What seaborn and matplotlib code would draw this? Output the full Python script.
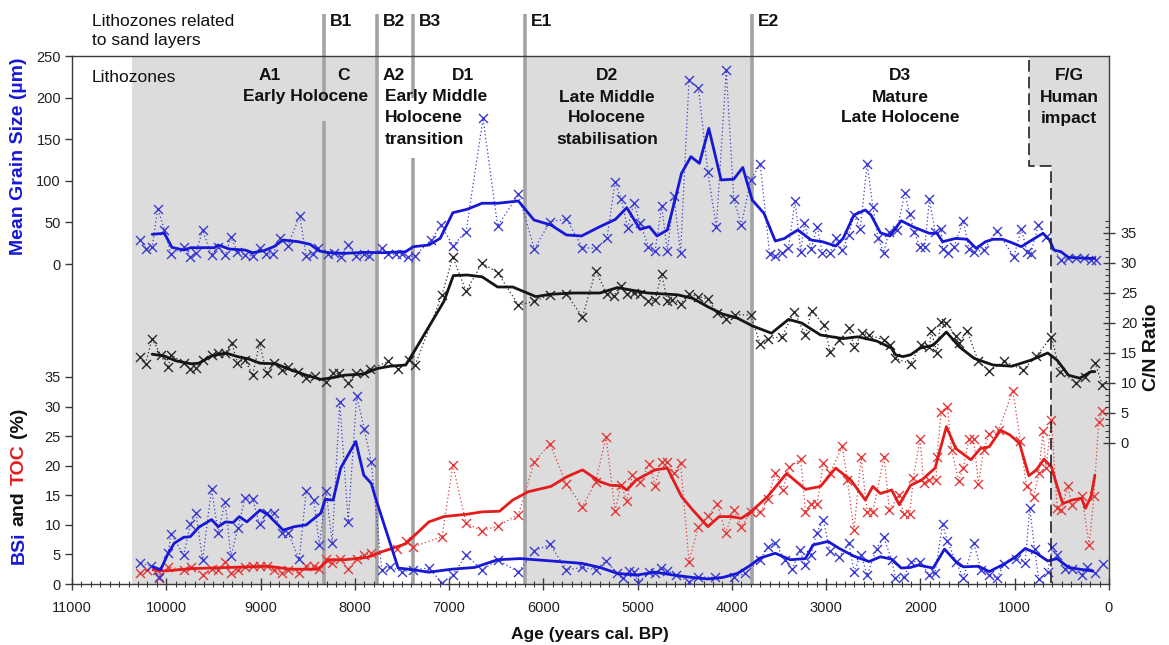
import numpy as np
import matplotlib
matplotlib.use("Agg")
import matplotlib.pyplot as plt
import matplotlib.transforms as mtransforms
from matplotlib.ticker import MultipleLocator, FixedLocator, FuncFormatter
import seaborn as sns

# ---------------- data (age in years cal. BP) ----------------
grain_age = [10280, 10210, 10150, 10090, 10020, 9950, 9815, 9745, 9685, 9615, 9520, 9450, 9375, 9315, 9245,
             9165, 9085, 9005, 8945, 8870, 8790, 8710, 8585, 8515, 8445, 8395, 8285, 8220, 8150, 8070, 7990,
             7905, 7845, 7715, 7645, 7565, 7500, 7440, 7360, 7195, 7085, 6960, 6820, 6640, 6485, 6265, 6095,
             5930, 5755, 5585, 5445, 5325, 5240, 5175, 5105, 5040, 4975, 4885, 4815, 4745, 4685, 4615, 4545,
             4455, 4355, 4255, 4165, 4060, 3980, 3900, 3800, 3700, 3600, 3540, 3470, 3400, 3330, 3270, 3230,
             3160, 3095, 3040, 2960, 2900, 2830, 2760, 2705, 2640, 2565, 2505, 2450, 2390, 2335, 2250, 2165,
             2115, 2065, 2005, 1955, 1905, 1845, 1780, 1765, 1705, 1645, 1545, 1485, 1430, 1330, 1190, 1010,
             930, 870, 830, 750, 670, 510, 430, 350, 270, 190, 135]
grain_raw = [28.8, 18, 20, 66.5, 40.9, 12, 20, 8.8, 12.8, 40.9, 10.8, 20.8, 10.4, 32, 14.8,
             10.8, 9.6, 19.6, 12, 12, 30.8, 22, 58, 9.6, 11.6, 18.8, 11.6, 12.8, 8.8, 22.8, 9.6,
             11.6, 9.6, 18.8, 11.6, 11.6, 11.6, 8.8, 9.6, 28.8, 46.5, 22, 38.9, 175, 45.7, 83.7, 18,
             50.9, 54, 19.6, 18.8, 30.8, 98.2, 78, 42.9, 73, 49.6, 20.8, 15.6, 69.7, 15.6, 81.7, 12.8,
             221, 212, 110, 44, 233, 77.8, 46.9, 101, 120, 12, 9.6, 12.8, 19.6, 75.7, 14.8, 49.6,
             17.6, 44.9, 12.8, 12.8, 30.8, 16.8, 34.9, 58.9, 41.7, 120, 68.9, 30.8, 13.6, 38.9, 40.9, 85.7,
             59.7, 38.9, 20, 20, 77.8, 38.9, 41.7, 17.6, 12.8, 20.8, 52, 17.6, 14.8, 16.8, 40, 8.8,
             41.7, 14.8, 12, 46.9, 32.8, 4.8, 6.8, 6.8, 6.8, 4.8, 4.8]

grain_s_age = [10150, 10020, 9940, 9815, 9740, 9490, 9450, 9330, 9165, 9085, 8965, 8860, 8760, 8600, 8475,
               8375, 8275, 8110, 7905, 7705, 7460, 7380, 7215, 7095, 6960, 6810, 6650, 6485, 6265, 6100,
               5920, 5755, 5595, 5400, 5235, 5115, 4975, 4875, 4795, 4685, 4595, 4535, 4435, 4345, 4245,
               4115, 3980, 3885, 3785, 3660, 3540, 3440, 3405, 3300, 3160, 3040, 2900, 2820, 2705, 2585,
               2525, 2425, 2325, 2205, 2065, 1905, 1825, 1765, 1625, 1505, 1410, 1310, 1230, 1130, 1030,
               930, 830, 700, 630, 585, 510, 430, 230, 150]
grain_smooth = [35.7, 36.9, 20, 16.8, 19.6, 19.6, 22.8, 18, 16.8, 13.6, 16, 20.8, 28.8, 26.8, 23.7,
                15.6, 13.6, 12.8, 14, 13.6, 14.8, 20.8, 22.8, 30.8, 61.7, 65.7, 73, 73, 75.7, 52.9,
                46.9, 34.9, 33.7, 44.9, 53.7, 67.7, 41.7, 44.9, 33.7, 40.9, 81, 109, 129, 121, 163,
                101, 102, 116, 77, 60.9, 27.6, 30.8, 33.7, 40.9, 28.8, 26.8, 21.6, 30.8, 58.9, 64.9,
                58.9, 37.6, 33.7, 52, 44, 36.9, 36.9, 26.8, 30.8, 29.7, 18.8, 26.8, 29.7, 29.7, 25.6,
                20.8, 28, 36.9, 28.8, 16.8, 14.8, 8, 6.8, 6.8]

cn_age = [10280, 10220, 10150, 10060, 9980, 9950, 9815, 9745, 9685, 9615, 9520, 9450, 9375, 9305, 9245,
          9165, 9085, 9010, 8935, 8860, 8770, 8710, 8605, 8515, 8425, 8305, 8235, 8170, 8070, 7990, 7905,
          7835, 7645, 7540, 7420, 7360, 7075, 6960, 6820, 6650, 6485, 6265, 6095, 5930, 5755, 5585, 5445,
          5325, 5255, 5180, 5115, 5035, 4980, 4885, 4815, 4745, 4685, 4635, 4545, 4455, 4355, 4255, 4155,
          4060, 3970, 3800, 3700, 3620, 3470, 3340, 3220, 3155, 3020, 2960, 2860, 2760, 2700, 2620, 2545,
          2385, 2325, 2265, 2105, 1995, 1905, 1885, 1825, 1785, 1725, 1625, 1595, 1505, 1385, 1270, 1110,
          910, 770, 610, 520, 350, 250, 150, 70]
cn_raw = [14.4, 13.2, 17.4, 14.7, 12.6, 14.7, 13.3, 12.3, 12.5, 13.9, 14.7, 15, 15, 16.6, 13.4,
          13.9, 11.3, 16.6, 11.6, 13.4, 12.2, 12.6, 11.9, 10.8, 11.1, 10.2, 11.6, 11.6, 10, 11.6, 11.6,
          12.3, 13.6, 12.3, 13.8, 13, 24.7, 31, 25.3, 30, 28.4, 23, 23.6, 24.7, 24.8, 21, 28.7,
          24.8, 24.5, 26.2, 24.8, 25, 24.8, 23.6, 23.8, 28.2, 23.6, 23.8, 23.2, 24.8, 24.4, 24, 21.6,
          20.7, 21.4, 21.3, 16.5, 17.4, 17.7, 21.9, 18, 22, 19.7, 15.2, 17.2, 19.1, 16, 18.3, 18,
          17.2, 16.3, 14.1, 13.2, 16.4, 16, 18.6, 15, 20.2, 20, 17.8, 16.6, 18.7, 13.6, 12, 13.6,
          12.2, 14.5, 17.7, 11.9, 10, 11, 13.4, 9.7]

cn_s_age = [10150, 10020, 9900, 9735, 9655, 9520, 9370, 9245, 9125, 9005, 8840, 8680, 8515, 8360, 8230,
            8110, 7905, 7765, 7625, 7460, 7380, 7055, 6955, 6810, 6650, 6485, 6325, 6080, 5920, 5675,
            5400, 5215, 4895, 4575, 4415, 4255, 4100, 3940, 3780, 3580, 3400, 3260, 3060, 2820, 2665,
            2465, 2305, 2265, 2185, 2105, 2005, 1865, 1725, 1585, 1430, 1230, 1030, 830, 650, 550,
            430, 310, 190, 150]
cn_smooth = [14.8, 14.5, 13.7, 13.2, 13.3, 14.5, 15, 14.4, 14, 13.3, 13.2, 12.2, 11.3, 10.6, 10.9,
             11.3, 11.5, 12.4, 12.8, 13, 15, 23.6, 27.9, 28, 27.7, 26, 26, 24.4, 24.8, 25,
             25, 25.9, 25, 24.7, 24.1, 22.7, 21.5, 20.8, 19.5, 18.3, 20.6, 20, 18, 17.4, 17.7,
             17, 15.8, 14.7, 14.4, 14.7, 15.8, 16.3, 18.5, 16, 14.1, 13, 12.8, 13.8, 15, 13.8,
             11.3, 10.8, 11.9, 11.9]

bsi_age = [10280, 10160, 10080, 9980, 9950, 9815, 9745, 9685, 9615, 9520, 9450, 9375, 9315, 9240, 9165,
           9085, 9010, 8935, 8860, 8770, 8710, 8590, 8515, 8435, 8375, 8305, 8240, 8160, 8070, 7980, 7900,
           7825, 7715, 7630, 7500, 7380, 7215, 7075, 6960, 6820, 6650, 6485, 6265, 6095, 5930, 5755, 5585,
           5445, 5335, 5215, 5155, 5095, 5035, 4995, 4875, 4815, 4755, 4685, 4595, 4455, 4355, 4175, 3980,
           3860, 3700, 3620, 3540, 3440, 3360, 3280, 3220, 3160, 3100, 3030, 2960, 2860, 2760, 2705, 2630,
           2565, 2465, 2390, 2305, 2265, 2175, 2105, 2005, 1905, 1845, 1765, 1715, 1625, 1545, 1435, 1355,
           1270, 1190, 1110, 990, 890, 840, 790, 745, 650, 600, 550, 470, 390, 290, 230, 150, 60]
bsi_raw = [3.6, 3, 1.1, 5.2, 8.5, 4.9, 10.1, 12, 4.1, 16.1, 8.7, 13.9, 4.7, 9.4, 14.5,
           14.4, 10.1, 12, 12, 8.7, 8.7, 4.2, 15.8, 14.2, 6.6, 15.8, 7, 30.8, 10.5, 31.8, 26.2,
           20.6, 2.4, 2.9, 2.1, 2.4, 2.7, 0.2, 1.5, 4.9, 2.4, 4.1, 2, 5.6, 6.7, 2.4, 2.8,
           2.4, 3.9, 1.8, 1, 2.2, 2.1, 0.2, 2.1, 1.8, 2.7, 2.2, 1.6, 0.4, 1.2, 1.1, 1.2,
           1.8, 4.1, 6.3, 6.9, 4.1, 2.5, 5.7, 3.2, 4.9, 8.7, 10.8, 5.5, 4.6, 6.9, 2.1, 4.9,
           1.5, 6, 7.9, 4.1, 1, 1.1, 3.8, 3.8, 1.5, 1.9, 10.1, 7.3, 3.8, 1, 6.9, 2.4,
           1.5, 1, 3.4, 4.3, 3.6, 12.9, 5.9, 0.8, 2.1, 6.2, 4.9, 2.5, 2.5, 1.5, 2.9, 1.8, 3.4]

bsi_s_age = [10140, 10060, 9980, 9915, 9815, 9745, 9655, 9520, 9450, 9370, 9290, 9225, 9145, 9005, 8920,
             8760, 8640, 8515, 8360, 8315, 8230, 8150, 7990, 7905, 7825, 7785, 7745, 7540, 7380, 7215,
             6975, 6730, 6485, 6245, 5920, 5595, 5400, 5215, 5015, 4815, 4615, 4415, 4255, 4100, 3940,
             3800, 3700, 3540, 3380, 3220, 3140, 2980, 2860, 2705, 2545, 2425, 2305, 2205, 2105, 2025,
             1865, 1745, 1625, 1545, 1385, 1270, 1110, 990, 890, 770, 650, 550, 430, 310, 170]
bsi_smooth = [2.9, 2.4, 5.2, 6.9, 7.9, 8, 9.6, 10.9, 9.7, 10.5, 10.4, 11.4, 10.5, 12.5, 11.7,
              9.1, 9.7, 10, 12, 14.3, 14.2, 19.6, 24.1, 18.4, 17, 14.8, 12.8, 2.7, 2.4, 2,
              2.5, 2.8, 4.1, 4.3, 3.9, 3.5, 2.8, 1.8, 1.5, 2, 1.5, 1.1, 0.85, 1.1, 1.8,
              3.2, 4.4, 5.2, 4.1, 4.3, 6.6, 7.2, 6, 4.7, 3.8, 4.6, 4.2, 2.7, 2.8, 3.2,
              2.7, 5.9, 3.8, 2.9, 3, 2.1, 3.4, 4.6, 6, 5.2, 3.9, 4.3, 2.8, 2.5, 2.2]

toc_age = [10280, 10200, 10100, 10080, 9980, 9815, 9735, 9615, 9520, 9450, 9375, 9315, 9240, 9165, 9085,
           9005, 8935, 8860, 8770, 8710, 8590, 8515, 8435, 8375, 8305, 8240, 8160, 8070, 7980, 7900, 7825,
           7550, 7455, 7380, 7075, 6960, 6820, 6650, 6485, 6265, 6095, 5930, 5755, 5585, 5445, 5335, 5240,
           5175, 5115, 5055, 4975, 4875, 4815, 4745, 4685, 4615, 4545, 4455, 4355, 4255, 4155, 4065, 3980,
           3900, 3800, 3700, 3620, 3540, 3460, 3390, 3270, 3220, 3160, 3095, 3030, 2960, 2830, 2775, 2705,
           2630, 2565, 2505, 2385, 2330, 2230, 2175, 2115, 2075, 2005, 1965, 1905, 1835, 1825, 1780, 1715,
           1670, 1595, 1545, 1485, 1435, 1385, 1330, 1270, 1170, 1020, 940, 875, 800, 745, 700, 670,
           610, 550, 505, 440, 390, 290, 210, 160, 110, 70]
toc_raw = [1.9, 2.4, 2.4, 1, 2.9, 2.4, 2.9, 1.6, 2.5, 2.4, 3.8, 1.8, 2.4, 2.9, 3,
           3, 3, 2.4, 1.8, 2.4, 1.8, 3, 3, 2.5, 4.3, 3.6, 4.3, 2.5, 4.3, 4.9, 5.2,
           5.9, 7.2, 6.3, 8, 20.1, 10.3, 9, 9.8, 11.7, 20.7, 23.7, 16.9, 13.1, 17.3, 24.9, 12.4,
           16.7, 14.1, 18.4, 17.3, 20.3, 16.6, 20.7, 20.7, 18.7, 20.5, 3.8, 9.7, 11.5, 13.5, 8.7, 12.5,
           9.7, 12.2, 12.1, 14.3, 18.8, 15.9, 19.7, 21.2, 12.1, 13.6, 13.6, 20.5, 18.7, 23.3, 17.6, 9.1,
           21.4, 12.2, 12.2, 21.5, 12.5, 15, 11.8, 11.8, 17.9, 24.6, 17.1, 17.6, 17.6, 21.5, 29.1, 30,
           22.7, 17.5, 19.6, 24.5, 24.5, 16.9, 22.7, 25.3, 26, 32.7, 24.1, 16.6, 14.7, 18.7, 25.8, 19.6,
           27.7, 12.8, 12.5, 16.5, 13.4, 14.9, 6.6, 14.8, 27.4, 29.3]

toc_s_age = [10140, 10020, 9735, 9330, 8920, 8680, 8395, 8275, 8110, 7865, 7705, 7460, 7215, 7055, 6810,
             6650, 6465, 6325, 6160, 5920, 5755, 5585, 5400, 5290, 5175, 5115, 5015, 4815, 4685, 4535,
             4415, 4255, 4135, 4015, 3900, 3800, 3620, 3420, 3220, 3060, 2900, 2740, 2585, 2505, 2425,
             2305, 2225, 2105, 1985, 1845, 1725, 1625, 1465, 1365, 1270, 1150, 1050, 950, 850, 770,
             690, 610, 550, 490, 390, 290, 250, 190, 150]
toc_smooth = [2.4, 2.2, 2.6, 2.8, 3, 2.5, 2.5, 4.1, 4.1, 4.5, 5.5, 6.8, 10.5, 11.4, 11.8,
              12.2, 12.3, 14.2, 15.6, 16.5, 18.1, 19.3, 17.3, 16.7, 16.6, 15.9, 17.6, 19.3, 19.6, 14.8,
              12.5, 9.7, 11.4, 11.4, 11.1, 12.2, 14.8, 18.7, 16, 16.5, 19.6, 17.6, 14.2, 16.5, 15.3,
              15.9, 13.4, 16.7, 17.6, 19.6, 26.6, 22.9, 21, 22.9, 23.2, 26, 25.2, 23.8, 18.3, 19.3,
              21.1, 19.8, 16.5, 13.6, 14.2, 14.5, 12.8, 14.8, 18.4]

# zones
shade_zones = [(10360, 7765), (6200, 3790)]
fg_upper_age, fg_lower_age, fg_step_grain = 850, 610, 118
zone_lines = {"B1": 8330, "B2": 7765, "B3": 7387, "E1": 6200, "E2": 3790}

# ---------------- styling / layout ----------------
sns.set_theme(style="white")
plt.rcParams["font.family"] = ["Liberation Sans", "DejaVu Sans"]

W, H = 1169, 645
PX_L, PX_R, PX_T, PX_B = 72, 1109, 56, 584
def fx(px): return px / W
def fy(py): return 1 - py / H

BLUE = "#1717d6"
BLUE_M = "#3b3bd0"
RED = "#e41c1c"
RED_M = "#e23a3a"
BLACK = "#151515"
GREY_ZONE = "#dcdcdc"
GREY_LINE = "#a3a3a3"
SPINE = "#3a3a3a"

fig = plt.figure(figsize=(W / 100, H / 100), dpi=100)
ax = fig.add_axes([fx(PX_L), fy(PX_B), (PX_R - PX_L) / W, (PX_B - PX_T) / H])
ax.set_facecolor("white")

# axis scalings (from tick pixel anchors)
bsi_unit = (584 - 377) / 35.0
grain_unit = (264 - 56) / 250.0
cn_unit = (443 - 233) / 35.0

ax_g = ax.twinx()
ax_c = ax.twinx()

# shaded lithozones
for a0, a1 in shade_zones:
    ax.axvspan(a0, a1, color=GREY_ZONE, lw=0, zorder=0)
step_frac = (PX_B - (264 - fg_step_grain * grain_unit)) / (PX_B - PX_T)
ax.axvspan(fg_upper_age, 0, ymin=step_frac, ymax=1, color=GREY_ZONE, lw=0, zorder=0)
ax.axvspan(fg_lower_age, 0, ymin=0, ymax=step_frac, color=GREY_ZONE, lw=0, zorder=0)

# vertical zone boundaries
blend = mtransforms.blended_transform_factory(ax.transData, fig.transFigure)
segments = {"B1": [(14, 99), (121, PX_B)], "B2": [(14, PX_B)], "B3": [(14, 98), (158, PX_B)],
            "E1": [(14, PX_B)], "E2": [(14, PX_B)]}
for name, age in zone_lines.items():
    for y0, y1 in segments[name]:
        ax.plot([age, age], [fy(y0), fy(y1)], transform=blend, clip_on=False, color=GREY_LINE,
                lw=2.6, solid_capstyle="butt", zorder=1)

# ---- series
def draw_series(axis, age, raw, s_age, smooth, lc, mc):
    sns.lineplot(x=np.array(age), y=np.array(raw), ax=axis, color=mc, linewidth=0.9,
                 linestyle=(0, (1, 2)), estimator=None, sort=True, zorder=2)
    sns.scatterplot(x=np.array(age), y=np.array(raw), ax=axis, marker="x", s=42, color=mc,
                    linewidth=1.0, zorder=3)
    sns.lineplot(x=np.array(s_age), y=np.array(smooth), ax=axis, color=lc, linewidth=2.0,
                 estimator=None, sort=True, zorder=4)

draw_series(ax, toc_age, toc_raw, toc_s_age, toc_smooth, RED, RED_M)
draw_series(ax, bsi_age, bsi_raw, bsi_s_age, bsi_smooth, BLUE, BLUE_M)
draw_series(ax_g, grain_age, grain_raw, grain_s_age, grain_smooth, BLUE, BLUE_M)
draw_series(ax_c, cn_age, cn_raw, cn_s_age, cn_smooth, BLACK, "#2a2a2a")

# F/G dashed boundary
ax_g.plot([fg_upper_age, fg_upper_age, fg_lower_age, fg_lower_age],
          [245, fg_step_grain, fg_step_grain, -500], color="#222222", lw=1.2,
          linestyle=(0, (7, 3)), zorder=5, clip_on=True)

# limits
for a in (ax, ax_g, ax_c):
    a.set_xlim(11000, 0)
ax.set_ylim(0, (PX_B - PX_T) / bsi_unit)
ax_g.set_ylim(-(PX_B - 264) / grain_unit, 250)
ax_c.set_ylim(-(PX_B - 443) / cn_unit, (443 - PX_T) / cn_unit)

for a in (ax, ax_g, ax_c):
    a.set_xlabel("")
    a.set_ylabel("")
    a.grid(False)

# spines
for s in ax.spines.values():
    s.set_color(SPINE)
    s.set_linewidth(1.0)
for a in (ax_g, ax_c):
    for s in a.spines.values():
        s.set_visible(False)

# ticks
fmt = FuncFormatter(lambda v, p: f"{int(round(v))}")
ax.xaxis.set_major_locator(MultipleLocator(1000))
ax.xaxis.set_minor_locator(MultipleLocator(100))
ax.xaxis.set_major_formatter(fmt)
ax.tick_params(axis="x", which="major", direction="inout", length=9, width=1.0, color=SPINE,
               labelsize=10.5, pad=8, bottom=True, top=False, labelcolor="#202020")
ax.tick_params(axis="x", which="minor", direction="inout", length=4, width=0.8, color=SPINE,
               bottom=True, top=False)

ax.yaxis.set_major_locator(FixedLocator(list(range(0, 36, 5))))
ax.yaxis.set_major_formatter(fmt)
ax.tick_params(axis="y", which="major", direction="out", length=5, width=1.0, color=SPINE,
               labelsize=10.5, left=True, right=False, labelleft=True, labelright=False,
               labelcolor="#202020", pad=3)

ax_g.yaxis.set_major_locator(FixedLocator(list(range(0, 251, 50))))
ax_g.yaxis.set_major_formatter(fmt)
ax_g.yaxis.tick_left()
ax_g.tick_params(axis="y", which="major", direction="out", length=5, width=1.0, color=SPINE,
                 labelsize=10.5, left=True, right=False, labelleft=True, labelright=False,
                 labelcolor="#202020", pad=3)
ax_g.tick_params(axis="x", which="both", bottom=False, top=False, labelbottom=False)

ax_c.yaxis.set_major_locator(FixedLocator(list(range(0, 36, 5))))
ax_c.yaxis.set_minor_locator(FixedLocator(list(range(0, 38))))
ax_c.yaxis.set_major_formatter(fmt)
ax_c.tick_params(axis="y", which="major", direction="inout", length=9, width=1.0, color=SPINE,
                 labelsize=10.5, left=False, right=True, labelleft=False, labelright=True,
                 labelcolor="#202020", pad=4)
ax_c.tick_params(axis="y", which="minor", direction="in", length=3, width=0.8, color=SPINE,
                 left=False, right=True)
ax_c.tick_params(axis="x", which="both", bottom=False, top=False, labelbottom=False)

# ---------------- texts ----------------
FS = 12.5
def put(lines, px, rows, ha="center", bold=True):
    for line, py in zip(lines, rows):
        fig.text(fx(px), fy(py), line, ha=ha, va="center", fontsize=FS,
                 fontweight="bold" if bold else "normal", color="#111111")

put(["Lithozones related", "to sand layers"], 92, [21, 40], ha="left", bold=False)
for name, age in zone_lines.items():
    px = PX_R - (PX_R - PX_L) * age / 11000.0
    put([name], px + 6, [21], ha="left")

put(["Lithozones"], 92, [77], ha="left", bold=False)
put(["A1"], 270, [76])
put(["C"], 344, [76])
put(["Early Holocene"], 306, [97])
put(["A2"], 383, [76], ha="left")
put(["D1"], 463, [76])
put(["Early Middle", "Holocene", "transition"], 385, [97, 118, 139], ha="left")
put(["D2", "Late Middle", "Holocene", "stabilisation"], 607, [76, 97, 118, 139])
put(["D3", "Mature", "Late Holocene"], 900, [76, 97, 118])
put(["F/G", "Human", "impact"], 1069, [76, 97, 118])

# axis labels
XFS = 12.5
YFS = 14
fig.text(fx(590), fy(635), "Age (years cal. BP)", ha="center", va="center", fontsize=XFS,
         fontweight="bold", color="#111111")
fig.text(fx(1151), fy(347), "C/N Ratio", ha="center", va="center", rotation=90, fontsize=YFS,
         fontweight="bold", color="#111111")
fig.text(fx(19), fy(156), "Mean Grain Size (µm)", ha="center", va="center", rotation=90,
         fontsize=YFS, fontweight="bold", color=BLUE)

renderer = fig.canvas.get_renderer()
pieces = [("BSi", BLUE), ("and", "#111111"), ("TOC", RED), ("(%)", "#111111")]
texts, lens = [], []
for s, c in pieces:
    t = fig.text(0, 0, s, rotation=90, ha="center", va="bottom", fontsize=YFS,
                 fontweight="bold", color=c)
    texts.append(t)
    lens.append(t.get_window_extent(renderer).height)
gap = 0.30 * YFS * 100 / 72
total = sum(lens) + gap * (len(lens) - 1)
ypos = 486 + total / 2
for t, L in zip(texts, lens):
    t.set_position((fx(19), fy(ypos)))
    ypos -= L + gap

fig.savefig("out.png", dpi=100)
